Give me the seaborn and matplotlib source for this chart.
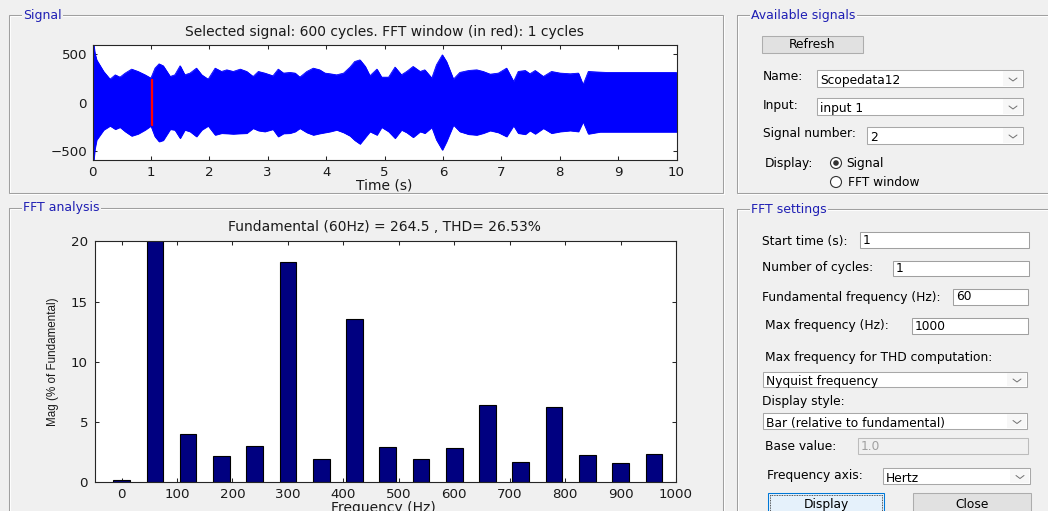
import matplotlib
matplotlib.use("Agg")
import matplotlib.pyplot as plt
from matplotlib.patches import Rectangle, Circle
import seaborn as sns

# ---- selected signal: envelope of the 60 Hz waveform over 10 s ----
time_s = [0.00, 0.02, 0.04, 0.07, 0.19, 0.30, 0.39, 0.47, 0.56, 0.67, 0.78, 0.90,
          1.00, 1.07, 1.14, 1.21, 1.33, 1.41, 1.50, 1.58, 1.67, 1.78, 1.87, 1.98,
          2.10, 2.21, 2.30, 2.41, 2.53, 2.64, 2.75, 2.84, 2.95, 3.09, 3.18, 3.27,
          3.38, 3.47, 3.55, 3.67, 3.78, 3.89, 3.98, 4.07, 4.18, 4.30, 4.41, 4.49,
          4.58, 4.67, 4.75, 4.87, 4.95, 5.07, 5.18, 5.29, 5.38, 5.49, 5.61, 5.69,
          5.81, 5.89, 5.99, 6.06, 6.18, 6.29, 6.44, 6.58, 6.69, 6.81, 6.95, 7.09,
          7.21, 7.29, 7.41, 7.49, 7.58, 7.72, 7.86, 8.01, 8.18, 8.32, 8.40, 8.49,
          8.69, 8.80, 10.00]
env_upper = [600, 600, 510, 441, 321, 241, 286, 262, 304, 345, 321, 286,
             252, 355, 400, 380, 269, 286, 380, 286, 304, 355, 286, 241,
             355, 321, 338, 321, 345, 321, 269, 321, 304, 276, 345, 304,
             311, 304, 262, 321, 355, 338, 304, 297, 286, 304, 366, 424,
             441, 373, 276, 345, 262, 262, 366, 286, 321, 373, 321, 338,
             252, 390, 493, 424, 241, 311, 331, 338, 321, 293, 304, 355,
             217, 321, 331, 297, 331, 269, 321, 304, 297, 304, 183, 321,
             314, 311, 311]
env_lower = [-600, -600, -480, -386, -283, -241, -276, -255, -300, -345, -324, -283,
             -241, -352, -404, -390, -276, -283, -369, -283, -300, -352, -283, -241,
             -335, -317, -320, -324, -320, -317, -266, -290, -300, -276, -352, -320,
             -317, -300, -266, -310, -335, -320, -310, -300, -283, -310, -345, -390,
             -428, -360, -300, -335, -255, -300, -369, -283, -310, -359, -300, -317,
             -255, -386, -490, -404, -231, -300, -328, -335, -317, -290, -310, -352,
             -238, -317, -328, -290, -324, -266, -317, -300, -290, -300, -197, -324,
             -303, -303, -303]

# FFT window (start time, one cycle of 60 Hz) and its amplitude span
fft_start = 1.0
fund_hz = 60
fft_cycles = 1
win_upper = 248
win_lower = -236

# ---- harmonic spectrum, % of fundamental ----
harm_freq = [0, 60, 120, 180, 240, 300, 360, 420, 480, 540, 600, 660, 720, 780,
             840, 900, 960]
harm_mag = [0.15, 100.0, 4.0, 2.19, 3.05, 18.26, 1.91, 13.6, 2.91, 1.91, 2.83,
            6.40, 1.66, 6.26, 2.24, 1.61, 2.33]

sig_xticks = [0, 1, 2, 3, 4, 5, 6, 7, 8, 9, 10]
sig_yticks = [-500, 0, 500]
fft_xticks = [0, 100, 200, 300, 400, 500, 600, 700, 800, 900, 1000]
fft_yticks = [0, 5, 10, 15, 20]

sig_title = "Selected signal: 600 cycles. FFT window (in red): 1 cycles"
fft_title = "Fundamental (60Hz) = 264.5 , THD= 26.53%"

sns.set_style("ticks")
plt.rcParams["font.family"] = ["DejaVu Sans"]

BG = "#f0f0f0"
TXT = "#1a1a1a"
GUI_FS = 8.8
PLOT_FS = 10.0
W, H = 1048, 511

fig = plt.figure(figsize=(W / 100, H / 100), dpi=100, facecolor=BG)

# full-window layer in pixel units for the dialog chrome
gui = fig.add_axes([0, 0, 1, 1])
gui.set_xlim(0, W)
gui.set_ylim(H, 0)
gui.axis("off")
gui.set_zorder(0)


def px_rect(x0, y0, x1, y1):
    return [x0 / W, 1 - y1 / H, (x1 - x0) / W, (y1 - y0) / H]


def panel(x0, y0, x1, y1, title):
    gui.add_patch(Rectangle((x0 + 1, y0 + 1), x1 - x0, y1 - y0, fill=False,
                            ec="white", lw=0.75))
    gui.add_patch(Rectangle((x0, y0), x1 - x0, y1 - y0, fill=False,
                            ec="#a0a0a0", lw=0.75))
    gui.text(x0 + 14, y0, title, color="#1f1fb4", fontsize=9.0, ha="left",
             va="center", bbox=dict(fc=BG, ec="none", pad=1.0))


def label(x, y, text, **kw):
    gui.text(x, y, text, fontsize=GUI_FS, color="black", ha="left", va="center", **kw)


def chevron(xc, yc, color="#707070"):
    gui.plot([xc - 4, xc, xc + 4], [yc - 1.5, yc + 1.5, yc - 1.5], color=color, lw=0.7)


def dropdown(x0, y0, x1, y1, text):
    box = Rectangle((x0, y0), x1 - x0, y1 - y0, fc="white", ec="#a8a8a8", lw=0.75)
    gui.add_patch(box)
    gui.add_patch(Rectangle((x1 - 20, y0 + 1), 19, y1 - y0 - 2, fc="#f7f7f7",
                            ec="none"))
    t = gui.text(x0 + 3, (y0 + y1) / 2 + 2, text, fontsize=GUI_FS, color="black",
                 ha="left", va="center")
    t.set_clip_path(box)
    chevron(x1 - 10, (y0 + y1) / 2 + 1)


def editbox(x0, y0, x1, y1, text, disabled=False):
    fc = BG if disabled else "white"
    ec = "#bcbcbc" if disabled else "#a0a0a0"
    gui.add_patch(Rectangle((x0, y0), x1 - x0, y1 - y0, fc=fc, ec=ec, lw=0.75))
    gui.text(x0 + 3, (y0 + y1) / 2, text, fontsize=GUI_FS,
             color="#a0a0a0" if disabled else "black", ha="left", va="center")


def button(x0, y0, x1, y1, text, focused=False):
    if focused:
        gui.add_patch(Rectangle((x0, y0), x1 - x0, y1 - y0, fc="#e5f1fb",
                                ec="#0078d7", lw=0.75))
        gui.add_patch(Rectangle((x0 + 2, y0 + 2), x1 - x0 - 4, y1 - y0 - 4,
                                fill=False, ec="#202020", lw=0.6, ls=(0, (1, 1))))
    else:
        gui.add_patch(Rectangle((x0, y0), x1 - x0, y1 - y0, fc="#e1e1e1",
                                ec="#adadad", lw=0.75))
    gui.text((x0 + x1) / 2, (y0 + y1) / 2, text, fontsize=GUI_FS, color="black",
             ha="center", va="center")


def radio(xc, yc, checked):
    gui.add_patch(Circle((xc, yc), 5.5, fc="white", ec="#333333", lw=0.8))
    if checked:
        gui.add_patch(Circle((xc, yc), 2.8, fc="#333333", ec="none"))


# panels
panel(9, 15, 723, 193, "Signal")
panel(9, 208, 723, 530, "FFT analysis")
panel(737, 15, 1060, 193, "Available signals")
panel(737, 209, 1060, 530, "FFT settings")

# available signals
button(762, 36, 863, 53, "Refresh")
label(763, 76, "Name:")
dropdown(817, 70, 1023, 87, "Scopedata12")
label(763, 105, "Input:")
dropdown(817, 98, 1023, 115, "input 1")
label(763, 133, "Signal number:")
dropdown(867, 127, 1023, 144, "2")
label(765, 163, "Display:")
radio(836, 163, True)
label(846, 163, "Signal")
radio(836, 182, False)
label(848, 182, "FFT window")

# FFT settings
label(762, 241, "Start time (s):")
editbox(860, 232, 1029, 248, "1")
label(762, 268, "Number of cycles:")
editbox(893, 261, 1029, 276, "1")
label(762, 297, "Fundamental frequency (Hz):")
editbox(953, 289, 1028, 305, "60")
label(765, 326, "Max frequency (Hz):")
editbox(912, 318, 1028, 334, "1000")
label(765, 357, "Max frequency for THD computation:")
dropdown(763, 372, 1027, 387, "Nyquist frequency")
label(762, 402, "Display style:")
dropdown(763, 413, 1027, 429, "Bar (relative to fundamental)")
label(765, 447, "Base value:")
editbox(858, 438, 1028, 454, "1.0", disabled=True)
label(767, 476, "Frequency axis:")
dropdown(883, 468, 1030, 484, "Hertz")
button(768, 493, 884, 516, "Display", focused=True)
button(913, 493, 1031, 516, "Close")


def style_axes(ax):
    ax.set_facecolor("white")
    for s in ax.spines.values():
        s.set_visible(True)
        s.set_color("#262626")
        s.set_linewidth(0.8)
    ax.tick_params(direction="in", length=2.6, width=0.75, colors="#262626",
                   labelcolor=TXT, labelsize=9.6, top=True, right=True)
    ax.tick_params(axis="x", pad=4)
    ax.tick_params(axis="y", pad=4)
    ax.set_xlabel("")
    ax.set_ylabel("")


# ---- signal axes ----
ax_sig = fig.add_axes(px_rect(92.5, 45, 676.5, 160))
ax_sig.set_zorder(2)
ax_sig.fill_between(time_s, env_lower, env_upper, color="#0000ff", lw=0.6,
                    ec="#0000ff")
sns.lineplot(x=time_s, y=env_upper, color="#0000ff", lw=0.6, ax=ax_sig)
sns.lineplot(x=time_s, y=env_lower, color="#0000ff", lw=0.6, ax=ax_sig)
win_end = fft_start + fft_cycles / fund_hz
ax_sig.fill_between([fft_start, win_end], [win_lower, win_lower],
                    [win_upper, win_upper], color="red", ec="red", lw=0.9)
ax_sig.set_xlim(0, 10)
ax_sig.set_ylim(-595, 595)
ax_sig.set_xticks(sig_xticks)
ax_sig.set_yticks(sig_yticks)
style_axes(ax_sig)

# ---- FFT axes ----
ax_fft = fig.add_axes(px_rect(95, 241.5, 676, 482.3))
ax_fft.set_zorder(2)
sns.barplot(x=harm_freq, y=harm_mag, native_scale=True, width=0.5,
            color="#000080", saturation=1, edgecolor="black", linewidth=0.8,
            errorbar=None, ax=ax_fft)
ax_fft.set_xlim(-48, 1000)
ax_fft.set_ylim(0, 20)
ax_fft.set_xticks(fft_xticks)
ax_fft.set_xticklabels([str(v) for v in fft_xticks])
ax_fft.set_yticks(fft_yticks)
ax_fft.set_yticklabels([str(v) for v in fft_yticks])
style_axes(ax_fft)
ax_fft.tick_params(axis="y", pad=5)

# titles and axis labels
gui.text(384, 32, sig_title, fontsize=PLOT_FS, color=TXT, ha="center", va="center")
gui.text(384, 185.5, "Time (s)", fontsize=PLOT_FS, color=TXT, ha="center",
         va="center")
gui.text(384, 227, fft_title, fontsize=PLOT_FS, color=TXT, ha="center", va="center")
gui.text(383, 508, "Frequency (Hz)", fontsize=PLOT_FS, color=TXT, ha="center",
         va="center")
gui.text(53, 362, "Mag (% of Fundamental)", fontsize=8.4,
         family=["Liberation Sans", "DejaVu Sans"], color=TXT,
         ha="center", va="center", rotation=90)

fig.savefig("out.png", dpi=100, facecolor=BG)
